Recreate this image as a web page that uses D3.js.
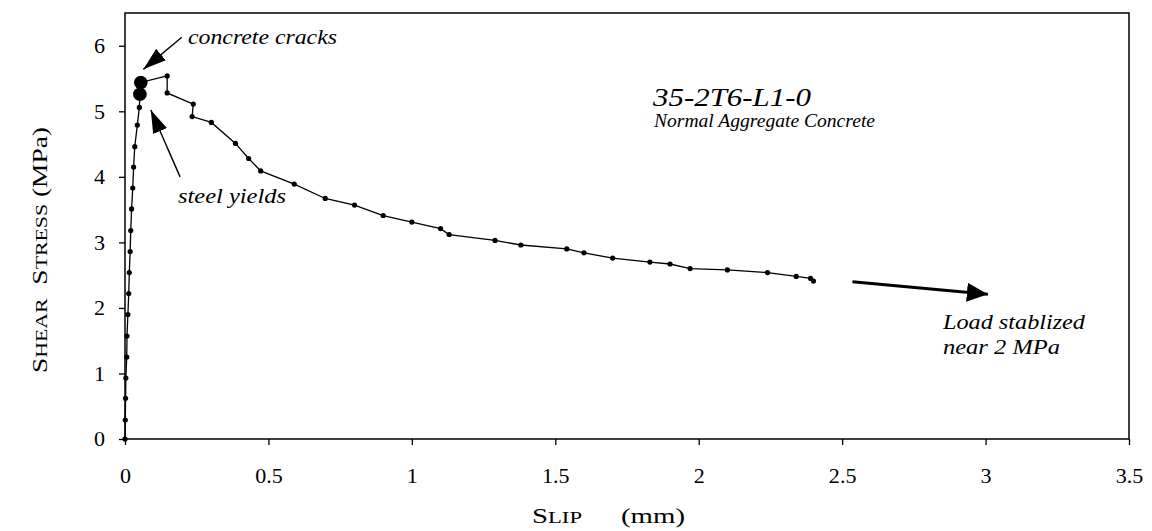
<!DOCTYPE html>
<html>
<head>
<meta charset="utf-8">
<script src="https://cdn.jsdelivr.net/npm/d3@7"></script>
<style>
  body { margin: 0; background: #fff; }
  svg text { font-family: "Liberation Serif", "Times New Roman", serif; fill: #000; }
</style>
</head>
<body>
<svg id="chart" width="1152" height="531"></svg>
<script>
var slip = [0, 0.001, 0.002, 0.003, 0.006, 0.007, 0.010, 0.013, 0.015, 0.018, 0.020, 0.023,
            0.027, 0.030, 0.034, 0.043, 0.050, 0.052, 0.055, 0.147, 0.147, 0.238, 0.234, 0.301,
            0.385, 0.431, 0.473, 0.590, 0.698, 0.800, 0.900, 1.000, 1.100, 1.130, 1.290, 1.380,
            1.540, 1.600, 1.700, 1.830, 1.900, 1.970, 2.100, 2.240, 2.340, 2.390, 2.400];
var stress = [0, 0.29, 0.62, 0.93, 1.25, 1.57, 1.90, 2.22, 2.54, 2.86, 3.18, 3.51,
              3.83, 4.15, 4.46, 4.79, 5.06, 5.26, 5.44, 5.54, 5.28, 5.11, 4.92, 4.83,
              4.51, 4.28, 4.09, 3.89, 3.67, 3.57, 3.41, 3.31, 3.21, 3.12, 3.03, 2.96,
              2.90, 2.84, 2.76, 2.70, 2.67, 2.60, 2.58, 2.54, 2.48, 2.45, 2.41];

// key events marked with big dots
var eventNames = ['steel yields', 'concrete cracks'];
var eventSlip = [0.052, 0.055];
var eventStress = [5.26, 5.44];

var xTicks = [0, 0.5, 1, 1.5, 2, 2.5, 3, 3.5];
var yTicks = [0, 1, 2, 3, 4, 5, 6];

var svg = d3.select('#chart');
var plotL = 125, plotR = 1129, plotT = 13, plotB = 439;
var stretch = 'scale(1.05,1)';   // lettering in the original is slightly wide

var x = d3.scaleLinear().domain([0, 3.5]).range([plotL, plotR]);
var y = d3.scaleLinear().domain([0, 6.5]).range([plotB, plotT]);

var defs = svg.append('defs');
function head(id, w, h) {
    defs.append('marker')
        .attr('id', id)
        .attr('viewBox', '0 0 ' + w + ' ' + h)
        .attr('refX', w).attr('refY', h / 2)
        .attr('markerWidth', w).attr('markerHeight', h)
        .attr('markerUnits', 'userSpaceOnUse')
        .attr('orient', 'auto')
      .append('path')
        .attr('d', 'M0,0L' + w + ',' + (h / 2) + 'L0,' + h + 'Z')
        .attr('fill', '#000');
}
head('thin', 23, 15);
head('thick', 21, 19);

// axes
var xAxis = svg.append('g')
    .attr('transform', 'translate(0,' + plotB + ')')
    .call(d3.axisBottom(x).tickValues(xTicks).tickSize(6).tickPadding(23)
        .tickFormat(function (d) { return d; }));
var yAxis = svg.append('g')
    .attr('transform', 'translate(' + plotL + ',0)')
    .call(d3.axisLeft(y).tickValues(yTicks).tickSize(6).tickPadding(13)
        .tickFormat(function (d) { return d; }));
[xAxis, yAxis].forEach(function (g) {
    g.select('.domain').remove();
    g.selectAll('.tick line').attr('stroke', '#000').attr('stroke-width', 1.3);
    g.selectAll('.tick text')
        .attr('font-size', 21)
        .attr('font-family', '"Liberation Serif", serif')
        .attr('transform', stretch);
});

// frame
svg.append('rect')
    .attr('x', plotL).attr('y', plotT)
    .attr('width', plotR - plotL).attr('height', plotB - plotT)
    .attr('fill', 'none').attr('stroke', '#000').attr('stroke-width', 1.5);

// series
var pts = slip.map(function (s, i) { return [s, stress[i]]; });
var line = d3.line().x(function (d) { return x(d[0]); }).y(function (d) { return y(d[1]); });
svg.append('path')
    .datum(pts)
    .attr('d', line)
    .attr('fill', 'none')
    .attr('stroke', '#000')
    .attr('stroke-width', 1.3);

svg.selectAll('.dot')
    .data(pts)
  .enter().append('circle')
    .attr('class', 'dot')
    .attr('cx', function (d) { return x(d[0]); })
    .attr('cy', function (d) { return y(d[1]); })
    .attr('r', 2.6)
    .attr('fill', '#000');

svg.selectAll('.event')
    .data(eventNames)
  .enter().append('circle')
    .attr('class', 'event')
    .attr('cx', function (d, i) { return x(eventSlip[i]); })
    .attr('cy', function (d, i) { return y(eventStress[i]); })
    .attr('r', 6.8)
    .attr('fill', '#000');

// annotation arrows (data coordinates)
function arrow(x1, y1, x2, y2, w, mk) {
    svg.append('line')
        .attr('x1', x(x1)).attr('y1', y(y1))
        .attr('x2', x(x2)).attr('y2', y(y2))
        .attr('stroke', '#000').attr('stroke-width', w)
        .attr('marker-end', 'url(#' + mk + ')');
}
arrow(0.198, 6.13, 0.064, 5.64, 1.4, 'thin');
arrow(0.192, 4.00, 0.090, 5.02, 1.4, 'thin');
arrow(2.536, 2.40, 3.008, 2.21, 3, 'thick');

function note(txt, px, py, size, len) {
    var t = svg.append('text')
        .attr('x', px).attr('y', py)
        .attr('font-size', size)
        .attr('font-style', 'italic')
        .text(txt);
    if (len) t.attr('textLength', len).attr('lengthAdjust', 'spacingAndGlyphs');
    return t;
}
note('concrete cracks', 188, 44, 20, 149);
note('steel yields', 178, 203, 20, 108);
note('35-2T6-L1-0', 653, 106, 25, 158);
note('Normal Aggregate Concrete', 654, 127, 18, 221);
note('Load stablized', 943, 329, 20, 142);
note('near 2 MPa', 943, 354, 20, 117);

// axis titles in small caps
var xt = svg.append('text')
    .attr('x', 532).attr('y', 523)
    .attr('font-size', 21)
    .attr('textLength', 50).attr('lengthAdjust', 'spacingAndGlyphs');
xt.append('tspan').text('S');
xt.append('tspan').attr('font-size', 16.5).text('LIP');
svg.append('text')
    .attr('x', 621).attr('y', 523)
    .attr('font-size', 21)
    .attr('textLength', 64).attr('lengthAdjust', 'spacingAndGlyphs')
    .text('(mm)');

var yt = svg.append('text')
    .attr('transform', 'translate(47,250) rotate(-90)')
    .attr('text-anchor', 'middle')
    .attr('font-size', 22)
    .attr('textLength', 246).attr('lengthAdjust', 'spacingAndGlyphs');
yt.append('tspan').text('S');
yt.append('tspan').attr('font-size', 17.5).text('HEAR');
yt.append('tspan').text('\u00a0\u00a0S');
yt.append('tspan').attr('font-size', 17.5).text('TRESS');
yt.append('tspan').text(' (MPa)');
</script>
</body>
</html>
